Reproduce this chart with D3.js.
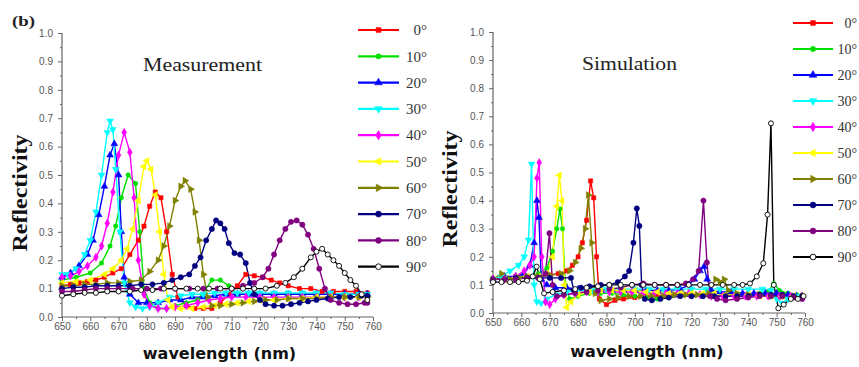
<!DOCTYPE html>
<html><head><meta charset="utf-8">
<script src="https://cdn.jsdelivr.net/npm/d3@7"></script>
<style>body{margin:0;background:#fff}svg{display:block}</style>
</head><body><svg id="c" width="859" height="367"></svg>
<script>
const angles = ["0°","10°","20°","30°","40°","50°","60°","70°","80°","90°"];
const colors = ["#ff0000","#00e000","#0000ff","#00ffff","#ff00ff","#ffff00","#808000","#000080","#800080","#000000"];
const xTicks = [650,660,670,680,690,700,710,720,730,740,750,760];
const yTicks = [0.0,0.1,0.2,0.3,0.4,0.5,0.6,0.7,0.8,0.9,1.0];

// Measurement
const meas0 = [[650,0.11],[653,0.115],[656,0.12],[659,0.125],[662,0.13],[665,0.14],[668,0.155],[671,0.17],[674,0.22],[677,0.27],[679,0.32],[681,0.39],[683,0.44],[685,0.42],[687,0.30],[689,0.15],[691,0.07],[694,0.04],[697,0.03],[700,0.03],[703,0.03],[706,0.05],[709,0.08],[712,0.11],[715,0.15],[718,0.145],[721,0.14],[724,0.13],[727,0.12],[730,0.11],[734,0.1],[738,0.1],[742,0.09],[746,0.09],[750,0.09],[754,0.09],[758,0.085]];
const meas10 = [[650,0.13],[655,0.14],[660,0.155],[664,0.19],[667,0.25],[669,0.32],[671,0.42],[673.4,0.50],[676,0.47],[677.5,0.3],[679,0.1],[681,0.05],[684,0.03],[687,0.03],[690,0.04],[694,0.05],[698,0.06],[701,0.10],[703,0.13],[706,0.13],[709,0.11],[712,0.08],[716,0.08],[720,0.08],[725,0.08],[730,0.08],[735,0.08],[740,0.08],[745,0.08],[750,0.08],[755,0.08],[758,0.08]];
const meas20 = [[650,0.14],[653,0.155],[656,0.18],[659,0.22],[661,0.27],[663,0.36],[665,0.46],[667,0.57],[668.5,0.61],[670,0.5],[671,0.3],[672,0.14],[674,0.08],[677,0.05],[680,0.05],[684,0.05],[688,0.06],[692,0.06],[696,0.07],[700,0.07],[704,0.075],[708,0.08],[712,0.08],[716,0.08],[720,0.08],[725,0.08],[730,0.08],[735,0.08],[740,0.08],[745,0.08],[750,0.08],[755,0.08],[758,0.08]];
const meas30 = [[650,0.15],[652,0.15],[655,0.17],[658,0.22],[660,0.27],[662,0.37],[664,0.5],[666,0.65],[667,0.69],[668,0.66],[669,0.52],[670.5,0.3],[672,0.12],[674,0.05],[676,0.035],[678.5,0.03],[681,0.035],[684,0.05],[688,0.07],[692,0.075],[696,0.08],[700,0.08],[704,0.085],[708,0.085],[712,0.085],[716,0.085],[720,0.085],[725,0.085],[730,0.085],[735,0.085],[740,0.085],[745,0.085],[750,0.08],[755,0.08],[758,0.08]];
const meas40 = [[650,0.14],[653,0.145],[656,0.16],[659,0.18],[662,0.21],[664,0.25],[666,0.33],[668,0.44],[670,0.57],[672,0.65],[674,0.58],[675.5,0.42],[677,0.2],[679,0.08],[681,0.04],[684,0.03],[687,0.03],[690,0.035],[694,0.04],[698,0.05],[702,0.06],[706,0.065],[710,0.07],[715,0.07],[720,0.07],[725,0.07],[730,0.07],[735,0.07],[740,0.07],[745,0.07],[750,0.07],[755,0.07],[758,0.07]];
const meas50 = [[650,0.12],[655,0.125],[660,0.13],[665,0.15],[668,0.17],[671,0.2],[673,0.24],[675,0.31],[677,0.41],[679,0.53],[680,0.55],[681.5,0.52],[683,0.43],[684.5,0.3],[686,0.15],[687.5,0.06],[689,0.035],[692,0.03],[696,0.03],[700,0.035],[704,0.04],[708,0.045],[712,0.05],[716,0.055],[720,0.06],[725,0.06],[730,0.065],[735,0.065],[740,0.07],[745,0.07],[750,0.07],[755,0.07],[758,0.07]];
const meas60 = [[650,0.11],[654,0.11],[658,0.115],[662,0.115],[666,0.12],[670,0.12],[674,0.125],[678,0.13],[681,0.16],[684,0.2],[686,0.25],[688,0.32],[690,0.41],[692,0.46],[693.5,0.48],[695.5,0.45],[697,0.37],[698.5,0.27],[700,0.15],[701.5,0.07],[703,0.04],[706,0.04],[710,0.045],[714,0.05],[718,0.055],[722,0.06],[726,0.06],[730,0.065],[735,0.065],[740,0.065],[745,0.07],[750,0.07],[755,0.07],[758,0.07]];
const meas70 = [[650,0.1],[654,0.105],[658,0.105],[662,0.11],[666,0.11],[670,0.11],[674,0.11],[678,0.115],[682,0.115],[686,0.12],[689,0.13],[692,0.14],[695,0.15],[697,0.18],[699,0.21],[701,0.27],[703,0.31],[704.5,0.34],[706,0.33],[707.5,0.31],[709,0.26],[711,0.225],[713,0.22],[715,0.19],[716.5,0.12],[718,0.08],[720,0.06],[722,0.045],[725,0.04],[728,0.04],[731,0.045],[734,0.05],[737,0.055],[740,0.06],[744,0.065],[748,0.07],[752,0.07],[756,0.075],[758,0.075]];
const meas80 = [[650,0.09],[654,0.09],[658,0.095],[662,0.1],[666,0.1],[670,0.1],[675,0.1],[680,0.1],[685,0.1],[690,0.1],[695,0.1],[700,0.1],[705,0.1],[710,0.1],[714,0.11],[718,0.12],[721,0.14],[723,0.17],[725,0.22],[727,0.27],[729,0.31],[731,0.335],[733,0.34],[735,0.325],[737,0.29],[739,0.24],[741,0.17],[743,0.1],[745,0.06],[748,0.05],[751,0.045],[754,0.045],[757,0.05],[758,0.05]];
const meas90 = [[650,0.075],[654,0.08],[658,0.085],[662,0.085],[666,0.09],[670,0.09],[674,0.09],[678,0.095],[682,0.095],[686,0.1],[690,0.1],[694,0.1],[698,0.1],[702,0.1],[706,0.1],[710,0.1],[714,0.1],[718,0.1],[722,0.1],[726,0.11],[729,0.12],[732,0.14],[735,0.17],[738,0.21],[740,0.23],[742,0.24],[744,0.22],[746,0.2],[748,0.18],[750,0.155],[752,0.13],[754,0.11],[756,0.08],[758,0.06]];

// Simulation
const sim0 = [[650,0.12],[654,0.125],[658,0.13],[662,0.13],[666,0.13],[670,0.135],[673,0.14],[676,0.15],[678,0.17],[680,0.2],[681.5,0.25],[683,0.33],[684.4,0.47],[685.5,0.41],[686.5,0.2],[687.5,0.05],[690,0.03],[693,0.045],[696,0.05],[700,0.055],[704,0.06],[708,0.06],[712,0.065],[716,0.065],[720,0.065],[724,0.065],[728,0.06],[732,0.06],[736,0.06],[740,0.06],[744,0.06],[748,0.06],[752,0.06],[756,0.06],[759,0.06]];
const sim10 = [[650,0.12],[654,0.13],[658,0.125],[662,0.13],[666,0.14],[669,0.16],[671,0.22],[672.5,0.3],[673.6,0.37],[674.5,0.3],[675.5,0.1],[677,0.05],[680,0.06],[684,0.07],[688,0.07],[692,0.07],[696,0.065],[700,0.06],[704,0.055],[708,0.05],[712,0.055],[716,0.06],[720,0.06],[724,0.06],[728,0.06],[732,0.065],[736,0.065],[740,0.065],[744,0.07],[747,0.075],[749,0.105],[751,0.08],[754,0.07],[757,0.065],[759,0.06]];
const sim20 = [[650,0.12],[654,0.13],[658,0.13],[661,0.14],[663,0.17],[664.5,0.25],[665.5,0.40],[666.2,0.34],[667,0.12],[669,0.1],[672,0.09],[676,0.09],[680,0.085],[684,0.08],[688,0.08],[692,0.08],[696,0.08],[700,0.08],[704,0.08],[708,0.08],[712,0.08],[716,0.085],[719,0.1],[721,0.12],[723,0.15],[724.4,0.165],[725.5,0.12],[727,0.08],[730,0.075],[734,0.075],[738,0.07],[742,0.07],[746,0.07],[750,0.07],[754,0.065],[757,0.06],[759,0.06]];
const sim30 = [[650,0.12],[653,0.13],[656,0.15],[659,0.17],[661,0.2],[662.5,0.26],[663.6,0.53],[664.5,0.1],[665.5,0.04],[667,0.035],[669,0.05],[672,0.065],[676,0.075],[680,0.08],[685,0.08],[690,0.085],[695,0.085],[700,0.085],[705,0.085],[710,0.085],[715,0.085],[720,0.085],[725,0.085],[730,0.085],[735,0.085],[740,0.085],[745,0.085],[748,0.08],[750,0.05],[752,0.035],[754,0.05],[757,0.06],[759,0.06]];
const sim40 = [[650,0.12],[654,0.12],[658,0.13],[661,0.15],[663,0.17],[664.5,0.2],[665.5,0.48],[666.3,0.535],[667.2,0.2],[668.5,0.04],[670,0.03],[672,0.05],[675,0.065],[679,0.07],[683,0.075],[687,0.075],[691,0.075],[695,0.075],[699,0.075],[703,0.07],[707,0.07],[711,0.07],[715,0.07],[719,0.07],[723,0.065],[727,0.06],[731,0.06],[735,0.06],[739,0.06],[743,0.06],[747,0.06],[751,0.06],[755,0.06],[759,0.06]];
const sim50 = [[650,0.12],[654,0.12],[658,0.125],[662,0.13],[666,0.13],[669,0.14],[671,0.2],[672.5,0.38],[673.4,0.49],[674.3,0.4],[675.2,0.1],[676,0.02],[677.5,0.04],[680,0.065],[684,0.075],[688,0.08],[692,0.08],[696,0.08],[700,0.08],[704,0.075],[708,0.075],[712,0.07],[716,0.07],[720,0.07],[724,0.07],[728,0.07],[732,0.065],[736,0.065],[740,0.065],[744,0.06],[748,0.06],[752,0.06],[756,0.06],[759,0.06]];
const sim60 = [[650,0.12],[653,0.14],[656,0.12],[659,0.125],[662,0.13],[666,0.13],[670,0.135],[674,0.14],[677,0.15],[679,0.18],[681,0.23],[682.5,0.3],[683.6,0.42],[684.8,0.25],[686,0.07],[688,0.045],[691,0.05],[694,0.055],[698,0.06],[702,0.06],[706,0.06],[710,0.06],[714,0.065],[718,0.065],[722,0.065],[726,0.07],[728.5,0.12],[730,0.11],[731.5,0.12],[733,0.08],[736,0.07],[740,0.065],[744,0.065],[748,0.06],[752,0.06],[756,0.06],[759,0.06]];
const sim70 = [[650,0.12],[654,0.12],[658,0.125],[662,0.125],[666,0.125],[670,0.125],[674,0.125],[677.5,0.125],[678.5,0.08],[681,0.09],[684,0.095],[688,0.1],[691,0.1],[694,0.11],[696.5,0.13],[698,0.15],[699.5,0.25],[700.7,0.372],[701.6,0.31],[702.4,0.1],[703.5,0.05],[706,0.045],[709,0.05],[712,0.055],[716,0.06],[720,0.06],[724,0.06],[728,0.06],[732,0.06],[736,0.06],[740,0.06],[744,0.065],[748,0.065],[752,0.065],[756,0.06],[759,0.06]];
const sim80 = [[650,0.12],[654,0.12],[658,0.12],[662,0.125],[666,0.125],[668.5,0.14],[669.9,0.284],[671,0.1],[672.5,0.06],[675,0.065],[679,0.07],[683,0.075],[687,0.08],[691,0.085],[695,0.09],[699,0.1],[703,0.105],[707,0.1],[711,0.1],[715,0.1],[718,0.105],[720.5,0.12],[722.5,0.15],[724.2,0.40],[725.4,0.18],[726.5,0.06],[729,0.05],[732,0.045],[736,0.05],[740,0.055],[744,0.06],[748,0.06],[752,0.06],[756,0.055],[759,0.05]];
const sim90 = [[650,0.11],[653,0.11],[656,0.11],[659,0.11],[662,0.115],[664,0.13],[665.4,0.165],[666.5,0.12],[668,0.07],[671,0.075],[675,0.08],[679,0.085],[683,0.09],[687,0.095],[691,0.1],[695,0.1],[699,0.1],[703,0.1],[707,0.1],[711,0.1],[715,0.1],[719,0.1],[723,0.1],[727,0.1],[731,0.1],[735,0.1],[738,0.1],[740.6,0.105],[743,0.13],[745.3,0.177],[746.8,0.35],[748,0.675],[749,0.1],[750.6,0.017],[752.5,0.03],[755,0.05],[757.5,0.05],[759.5,0.06]];

const measSeries = [meas0,meas10,meas20,meas30,meas40,meas50,meas60,meas70,meas80,meas90];
const simSeries = [sim0,sim10,sim20,sim30,sim40,sim50,sim60,sim70,sim80,sim90];

const svg = d3.select("#c");
svg.append("rect").attr("width",859).attr("height",367).attr("fill","#fff");

// marker shapes per series: [symbolType, rotation, hollow]
const tri = d3.symbolTriangle;
const shapes = [
  [d3.symbolSquare,0,false],[d3.symbolCircle,0,false],[tri,0,false],[tri,180,false],
  [d3.symbolDiamond,0,false],[tri,-90,false],[tri,90,false],[d3.symbolCircle,0,false],
  [d3.symbolCircle,0,false],[d3.symbolCircle,0,true]];
const sizes = [18,16,20,20,20,20,20,22,22,20];

function drawPanel(cfg) {
  const x = d3.scaleLinear().domain([650,760]).range([cfg.x0, cfg.x1]);
  const y = d3.scaleLinear().domain([0,1]).range([cfg.yb, cfg.yt]);
  const g = svg.append("g");

  const xAxis = d3.axisBottom(x).tickValues(xTicks).tickSize(4).tickFormat(d3.format("d"));
  const yAxis = d3.axisLeft(y).tickValues(yTicks).tickSize(4).tickFormat(d3.format(".1f"));
  const gx = g.append("g").attr("transform",`translate(0,${cfg.yb})`).call(xAxis);
  const gy = g.append("g").attr("transform",`translate(${cfg.x0},0)`).call(yAxis);
  const gxm = g.append("g").attr("transform",`translate(0,${cfg.yb})`)
    .call(d3.axisBottom(x).tickValues(xTicks.slice(0,-1).map(v=>v+5)).tickSize(2).tickFormat(""));
  const gym = g.append("g").attr("transform",`translate(${cfg.x0},0)`)
    .call(d3.axisLeft(y).tickValues(yTicks.slice(0,-1).map(v=>v+0.05)).tickSize(2).tickFormat(""));
  [gx,gy,gxm,gym].forEach(a=>{
    a.select(".domain").attr("stroke","#666").attr("stroke-width",1.2);
    a.selectAll(".tick line").attr("stroke","#666");
  });
  gxm.select(".domain").remove(); gym.select(".domain").remove();
  gx.selectAll(".tick text").attr("font-family","Liberation Sans, Arial, sans-serif")
    .attr("font-size",10).attr("fill","#555").attr("dy","0.6em");
  gy.selectAll(".tick text").attr("font-family","Liberation Sans, Arial, sans-serif")
    .attr("font-size",10).attr("fill","#555").attr("dx","-0.2em");
  gx.select(".domain").attr("d",`M${cfg.x0},0H${cfg.x1}`);
  gy.select(".domain").attr("d",`M0,${cfg.yb}V${cfg.yt}`);

  const line = d3.line().x(d=>x(d[0])).y(d=>y(d[1]));
  cfg.series.forEach((s,i)=>{
    g.append("path").datum(s).attr("d",line).attr("fill","none")
      .attr("stroke",colors[i]).attr("stroke-width",1.4).attr("stroke-linejoin","round");
  });
  cfg.series.forEach((s,i)=>{
    const [t,rot,hollow] = shapes[i];
    g.append("g").selectAll("path").data(s).join("path")
      .attr("d", d3.symbol().type(t).size(sizes[i]))
      .attr("transform", d=>`translate(${x(d[0])},${y(d[1])}) rotate(${rot})`)
      .attr("fill", hollow ? "#fff" : colors[i])
      .attr("stroke", colors[i]).attr("stroke-width", hollow?0.9:0.5);
  });

  g.append("text").attr("x",cfg.titleX).attr("y",cfg.titleY)
    .attr("font-family","Liberation Serif, Times New Roman, serif").attr("font-size",18)
    .attr("textLength",cfg.titleLen).attr("lengthAdjust","spacingAndGlyphs")
    .attr("fill","#222").text(cfg.title);
  g.append("text").attr("x",(cfg.x0+cfg.x1)/2 + cfg.xlabDx).attr("y",cfg.xlabY).attr("text-anchor","middle")
    .attr("font-family","DejaVu Sans, Verdana, sans-serif").attr("font-weight","bold").attr("font-size",16)
    .attr("fill","#111").text("wavelength (nm)");
  g.append("text").attr("transform",`translate(${cfg.ylabX},${cfg.ylabY}) rotate(-90)`)
    .attr("text-anchor","middle").attr("dy","0.35em")
    .attr("font-family","Liberation Serif, Times New Roman, serif").attr("font-weight","bold").attr("font-size",20)
    .attr("textLength",117).attr("lengthAdjust","spacingAndGlyphs")
    .attr("fill","#111").text("Reflectivity");

  const lg = g.append("g");
  angles.forEach((a,i)=>{
    const yy = cfg.legY + i*cfg.legStep;
    lg.append("line").attr("x1",cfg.legX0).attr("x2",cfg.legX1).attr("y1",yy).attr("y2",yy)
      .attr("stroke",colors[i]).attr("stroke-width",2.2);
    const [t,rot,hollow] = shapes[i];
    lg.append("path").attr("d", d3.symbol().type(t).size(sizes[i]+6)())
      .attr("transform",`translate(${(cfg.legX0+cfg.legX1)/2},${yy}) rotate(${rot})`)
      .attr("fill", hollow ? "#fff" : colors[i]).attr("stroke",colors[i]).attr("stroke-width",hollow?0.9:0.5);
    lg.append("text").attr("x",cfg.legTX).attr("y",yy).attr("dy","0.35em").attr("text-anchor","end")
      .attr("font-family","Liberation Serif, Times New Roman, serif").attr("font-size",cfg.legFont)
      .attr("fill","#333").text(a);
  });
}

drawPanel({series: measSeries, x0:62, x1:373, yt:33, yb:317,
  title:"Measurement", titleX:143, titleY:71, titleLen:119,
  xlabDx: 2, xlabY:359, ylabX:20, ylabY:193,
  legX0:358, legX1:399, legTX:427, legY:30, legStep:26.3, legFont:15});
drawPanel({series: simSeries, x0:493, x1:805, yt:32, yb:313,
  title:"Simulation", titleX:582, titleY:70, titleLen:95,
  xlabDx: -2, xlabY:357, ylabX:450, ylabY:189,
  legX0:793, legX1:833, legTX:857, legY:23, legStep:26, legFont:14});

svg.append("text").attr("x",12).attr("y",26)
  .attr("font-family","Liberation Serif, Times New Roman, serif").attr("font-weight","bold").attr("font-size",15)
  .attr("textLength",23).attr("lengthAdjust","spacingAndGlyphs").attr("fill","#222").text("(b)");
</script></body></html>
